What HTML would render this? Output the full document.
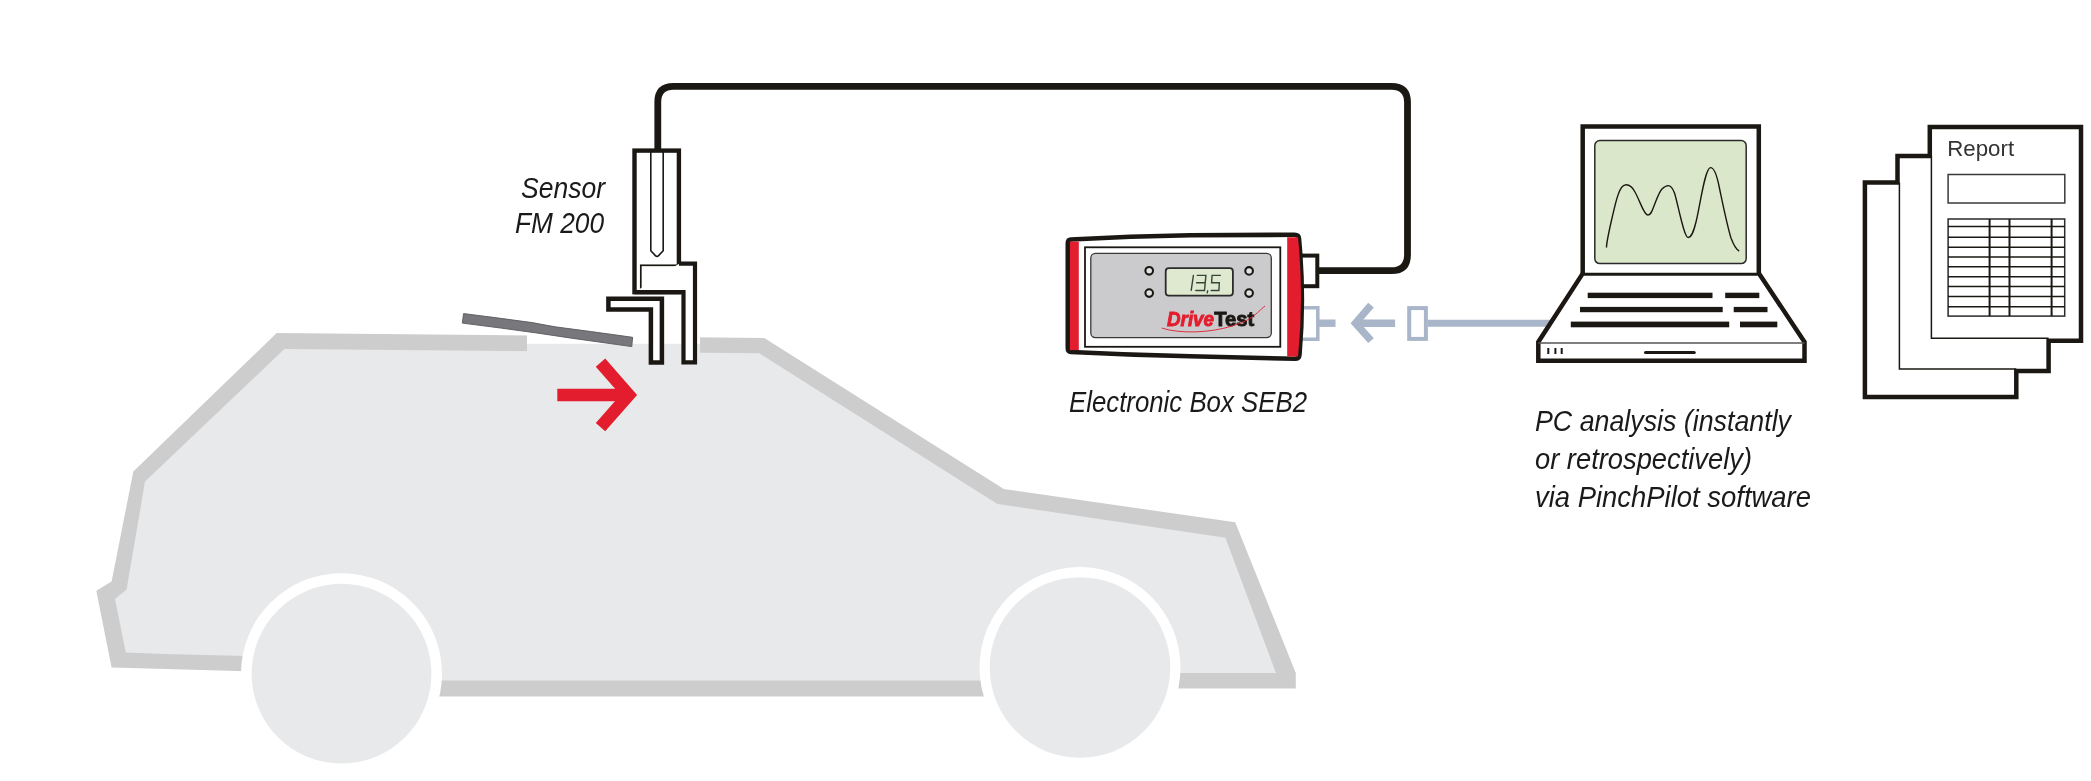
<!DOCTYPE html>
<html><head><meta charset="utf-8">
<style>
html,body{margin:0;padding:0;background:#fff;width:2091px;height:781px;overflow:hidden}
svg{display:block;will-change:transform}
text{font-family:"Liberation Sans",sans-serif}
</style></head><body>
<svg width="2091" height="781" viewBox="0 0 2091 781">
<!-- CAR -->
<g id="car">
<polygon fill="#cdcdce" points="111.6,667.4 96.3,590.8 111.6,581.6 133.3,471.6 276.7,333 764.3,337.9 1003.8,489 1235.2,522.3 1295.8,673 1295.8,688.5 1080,688.5 1080,696.5 341.5,696.5 341.5,674 111.6,667.4"/>
<polygon fill="#e8e9eb" points="125.8,652.4 115,599.1 126.6,589.5 145,481.6 284.4,349 759.2,353.3 997.4,503.9 1225.4,537.7 1276,673 1080,673 1080,680.5 341.5,680.5 341.5,658.5 165,654"/>
<rect x="527" y="328" width="173" height="16" fill="#fff"/>
<rect x="527" y="343.8" width="173" height="12" fill="#e8e9eb"/>
<circle cx="1080" cy="667.5" r="100.5" fill="#fff"/>
<circle cx="1080" cy="667.5" r="90.3" fill="#e8e9eb"/>
<circle cx="341.5" cy="673.7" r="100.5" fill="#fff"/>
<circle cx="341.5" cy="673.7" r="89.9" fill="#e8e9eb"/>
</g>
<!-- wiper -->
<polygon fill="#78777b" stroke="#5a595d" stroke-width="0.9" points="463.6,313.6 495,317.6 532.2,322.6 555,326.8 591.3,331.6 632.6,337.3 631.8,346.6 573.1,338.4 536.8,333 500.4,328 462.3,323.1"/>
<!-- red arrow -->
<g fill="none" stroke="#e31d2e" stroke-width="12.5">
<line x1="557.3" y1="395" x2="626" y2="395"/>
<polyline points="600.5,362.7 628.8,395 600.5,427.2" stroke-miterlimit="10"/>
</g>
<!-- cable -->
<path d="M657.8 150 V102 Q657.8 86.3 673.5 86.3 H1391.5 Q1407.5 86.3 1407.5 102.3 V254.7 Q1407.5 270.7 1391.5 270.7 H1318" fill="none" stroke="#1b1814" stroke-width="6.8"/>
<!-- SENSOR -->
<g fill="none" stroke="#1b1814" stroke-linejoin="miter">
<rect x="634.5" y="150.6" width="44.4" height="141.6" fill="#fff" stroke-width="4.4"/>
<path d="M650.8 152 V250.8 L655.4 255.6 Q657 257.2 658.6 255.6 L663.2 250.8 V152" stroke-width="1.6"/>
<rect x="640.8" y="265.3" width="52.3" height="27" fill="#fff" stroke-width="1.7"/>
<path d="M678.9 263.7 H695 V362.4 H683.5 V292.2 H634.5" stroke-width="4.2" fill="#fff"/>
<path d="M608.4 298.8 H661.9 V362.4 H650.9 V309.4 H608.4 Z" stroke-width="4.5" fill="#fff"/>
</g>
<!-- texts -->
<g font-style="italic" fill="#1a1a1a" font-size="29.8" lengthAdjust="spacingAndGlyphs">
<text x="605" y="197.5" text-anchor="end" textLength="84" lengthAdjust="spacingAndGlyphs">Sensor</text>
<text x="604" y="232.6" text-anchor="end" textLength="89" lengthAdjust="spacingAndGlyphs">FM 200</text>
<text x="1069" y="411.7" textLength="238" lengthAdjust="spacingAndGlyphs">Electronic Box SEB2</text>
<text x="1535" y="430.7" textLength="256" lengthAdjust="spacingAndGlyphs">PC analysis (instantly</text>
<text x="1535" y="469.1" textLength="217" lengthAdjust="spacingAndGlyphs">or retrospectively)</text>
<text x="1535" y="506.8" textLength="276" lengthAdjust="spacingAndGlyphs">via PinchPilot software</text>
</g>
<!-- BLUE connector -->
<g fill="none" stroke="#a9b5c8">
<path d="M1298 307.8 H1317.8 V339.2 H1298" stroke-width="3.5"/>
<line x1="1319" y1="323.2" x2="1335.5" y2="323.2" stroke-width="7.4"/>
<line x1="1354" y1="323.2" x2="1395.1" y2="323.2" stroke-width="7.4"/>
<polyline points="1371,305.2 1355.5,323.1 1371,340.6" stroke-width="7.4"/>
<rect x="1409.2" y="308.1" width="16.7" height="30.8" stroke-width="4"/>
<line x1="1427.9" y1="323.2" x2="1560" y2="323.2" stroke-width="7"/>
</g>
<!-- ELECTRONIC BOX -->
<g>
<rect x="1296" y="255.6" width="21.3" height="30.6" fill="#fff" stroke="#1b1814" stroke-width="4"/>
<path d="M1067.8 243 Q1067.8 239.7 1071 239.5 Q1130 236 1190 235.3 L1294.5 234.8 Q1298.8 234.8 1299 239 Q1304.5 297 1299.5 354.5 Q1299.2 358.8 1295 358.8 L1190 356.3 Q1130 355 1071 352 Q1067.8 351.8 1067.8 348 Z" fill="#fff" stroke="#1b1814" stroke-width="4.6"/>
<rect x="1069.9" y="241.6" width="8.9" height="108.5" fill="#e31d2e"/>
<path d="M1287.2 237.2 H1298 Q1304 297 1298 356.5 H1287.2 Z" fill="#e31d2e"/>
<rect x="1085" y="247.3" width="195.3" height="99.5" fill="none" stroke="#1b1814" stroke-width="1.8"/>
<rect x="1090.8" y="253.4" width="180.5" height="84.2" rx="4.5" fill="#cbcbcd" stroke="#3a3a3a" stroke-width="1.3"/>
<g fill="#e2e2e2" stroke="#1b1814" stroke-width="2.1">
<circle cx="1149.2" cy="270.8" r="3.8"/><circle cx="1149.2" cy="293.1" r="3.8"/>
<circle cx="1249.1" cy="270.9" r="3.8"/><circle cx="1249.1" cy="293.1" r="3.8"/>
</g>
<rect x="1165.7" y="268.2" width="67.2" height="27.5" rx="3.2" fill="#dfe9cf" stroke="#2b2b2b" stroke-width="1.8"/>
<g fill="none" stroke="#34473a" stroke-width="1.4" stroke-linecap="round">
<path d="M1193.4 275.4 L1191.2 290.3"/>
<path d="M1197.3 275.4 H1205.9 L1204.5 290.5 H1195.8 M1196.6 282.8 H1205"/>
<path d="M1207.7 290.8 L1207.2 292.8"/>
<path d="M1220.3 275.4 H1212.1 L1211.6 282.8 H1219.3 L1218.9 290.5 H1211.2"/>
</g>
<text x="1167" y="326.3" font-weight="bold" font-style="italic" font-size="20.5" fill="#e31d2e" stroke="#e31d2e" stroke-width="0.9" textLength="47" lengthAdjust="spacingAndGlyphs">Drive</text>
<text x="1214.3" y="326.3" font-weight="bold" font-size="20.5" fill="#1b1814" stroke="#1b1814" stroke-width="0.9" textLength="40" lengthAdjust="spacingAndGlyphs">Test</text>
<path d="M1161.7 328 C1180 334 1210 333 1232 326 S1255 314 1265 306" fill="none" stroke="#e31d2e" stroke-width="0.9"/>
</g>
<!-- LAPTOP -->
<g stroke="#1b1814" fill="none">
<path d="M1582.8 273.4 L1538.3 342 V360.7 H1804.5 V342 L1759 273.4 Z" fill="#fff" stroke-width="4.5"/>
<path d="M1538.3 343 H1804.5" stroke="#555" stroke-width="1.5"/>
<path d="M1582.7 273.4 V126.6 H1758.8 V273.4" fill="#fff" stroke-width="4.5"/>
<path d="M1582.7 273.4 H1758.8" stroke-width="1.5"/>
<rect x="1594.8" y="140.5" width="151.4" height="123.1" rx="5" fill="#dbe7ca" stroke="#2a2a2a" stroke-width="1.5"/>
<path d="M1606.5 247.4 C1606.5 240 1616 200 1618.2 194.5 C1620 189 1623 184.7 1626.2 184.7 C1630 184.7 1633 188 1635 192 C1640 201 1644 215 1647.7 215 C1651 215 1652 211 1654 206 C1656 201 1659 192 1662 189 C1664 187 1666 185.6 1668.3 185.6 C1671 185.6 1673 189 1674.5 193 C1678 204 1684 237.5 1688.1 237.5 C1692 237.5 1694 230 1696 222 C1700 206 1705 167.6 1710.5 167.6 C1714 167.6 1717 176 1719 186 C1722 200 1727 225 1731 238 C1734 246 1737 250 1739.2 251" stroke-width="1.4"/>
<g fill="#1b1814" stroke="none">
<rect x="1587.7" y="292.7" width="124.8" height="5.4"/><rect x="1725.2" y="292.7" width="34.1" height="5.4"/>
<rect x="1580" y="306.9" width="142.7" height="5.3"/><rect x="1733.7" y="306.9" width="33.8" height="5.3"/>
<rect x="1570.8" y="321.6" width="158.4" height="5.7"/><rect x="1740" y="321.6" width="37.3" height="5.7"/>
<rect x="1547.3" y="348" width="2" height="6"/><rect x="1554.4" y="348" width="2" height="6"/><rect x="1560.7" y="348" width="2" height="6"/>
</g>
<path d="M1645.6 352.5 H1694.2" stroke-width="3.2" stroke-linecap="round"/>
</g>
<!-- REPORT -->
<g stroke="#1b1814" fill="none">
<path d="M1864.9 397 V182.5 H1897.5 V156 H1929.8 V126.9 H2081 V340.8 H2048.6 V371 H2016.3 V397 Z" fill="#fff" stroke-width="4.5"/>
<path d="M1899.4 182.5 V369 H2016.3" stroke-width="1.5"/>
<path d="M1931.4 156 V338.3 H2048.6" stroke-width="1.5"/>
<rect x="1948.1" y="174.5" width="116.7" height="28.5" stroke="#3a3a3a" stroke-width="1.5"/>
<rect x="1948.1" y="219" width="116.6" height="97.1" stroke="#2a2a2a" stroke-width="1.5"/>
<path d="M1989.6 219 V316 M2009.5 219 V316 M2051.6 219 V316" stroke-width="2"/>
<path d="M1948 226.5 H2064.7 M1948 237.2 H2064.7 M1948 247.3 H2064.7 M1948 257.1 H2064.7 M1948 266.8 H2064.7 M1948 276.7 H2064.7 M1948 286.5 H2064.7 M1948 296.4 H2064.7 M1948 306.8 H2064.7" stroke-width="1.5"/>
</g>
<text x="1947.3" y="155.6" font-size="22" fill="#333" textLength="66.8" lengthAdjust="spacingAndGlyphs">Report</text>
</svg>
</body></html>
